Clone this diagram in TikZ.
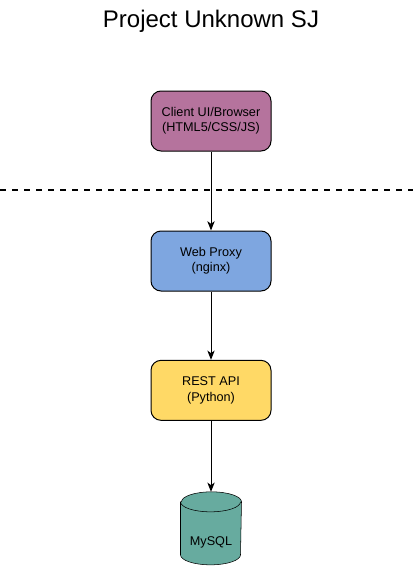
\documentclass[tikz,border=0pt]{standalone}
\usepackage{fontspec}
\setmainfont{Liberation Sans}
\usepackage{tikz}
\usetikzlibrary{shapes}
\usetikzlibrary{arrows.meta}
\usetikzlibrary{backgrounds}
\definecolor{clientcol}{HTML}{B5739D}
\definecolor{proxycol}{HTML}{7EA6E0}
\definecolor{apicol}{HTML}{FFD966}
\definecolor{dbcol}{HTML}{67AB9F}

\begin{document}
\begin{tikzpicture}[x=0.75pt,y=-0.75pt,line width=0.75pt,>={Stealth[length=7pt,width=5.5pt,inset=2pt]}]
      \tikzstyle{every node}=[font=\fontsize{9.5}{11.5}\selectfont,align=center]
      \tikzstyle{tier}=[draw,rounded corners=7.5pt,minimum width=90pt,minimum height=45pt]
      \tikzstyle{db}=[inner sep=0pt,minimum width=45pt,minimum height=54pt]
      \useasboundingbox (0,0) rectangle (413,571);
      %
      \node (title) at (211,21) {\fontsize{18}{21}\selectfont Project Unknown SJ};
      \node [tier,fill=clientcol] (client) at (211,121) {Client UI/Browser\\(HTML5/CSS/JS)};
      \node [tier,fill=proxycol] (proxy) [below of=client, node distance=105]  {Web Proxy\\(nginx)};
      \node [tier,fill=apicol] (api) [below of=proxy, node distance=97]  {REST API\\(Python)};
      \node [db] (mysql) [below of=api, node distance=103.5]  {\raisebox{-12.5pt}[0pt][0pt]{MySQL}};
      \coordinate (sepL) at (0,190);
      \coordinate (sepR) at (413,190);
      % cylinder outline round the db node
      \begin{scope}[on background layer]
        \draw [fill=dbcol] ([yshift=-7.5pt]mysql.north west) -- ([yshift=7.5pt]mysql.south west)
          arc [start angle=180,end angle=360,x radius=22.5pt,y radius=7.5pt]
          -- ([yshift=-7.5pt]mysql.north east)
          arc [start angle=0,end angle=180,x radius=22.5pt,y radius=7.5pt] -- cycle;
        \draw ([yshift=-7.5pt]mysql.north west)
          arc [start angle=180,end angle=360,x radius=22.5pt,y radius=7.5pt];
      \end{scope}
      %
      \draw [line width=1.5pt,dash pattern=on 4.5pt off 4.5pt] (sepL) -- (sepR);
      \path[->]
      (client) edge (proxy)
      (proxy)  edge (api)
      (api)    edge (mysql);
    \end{tikzpicture}
\end{document}
